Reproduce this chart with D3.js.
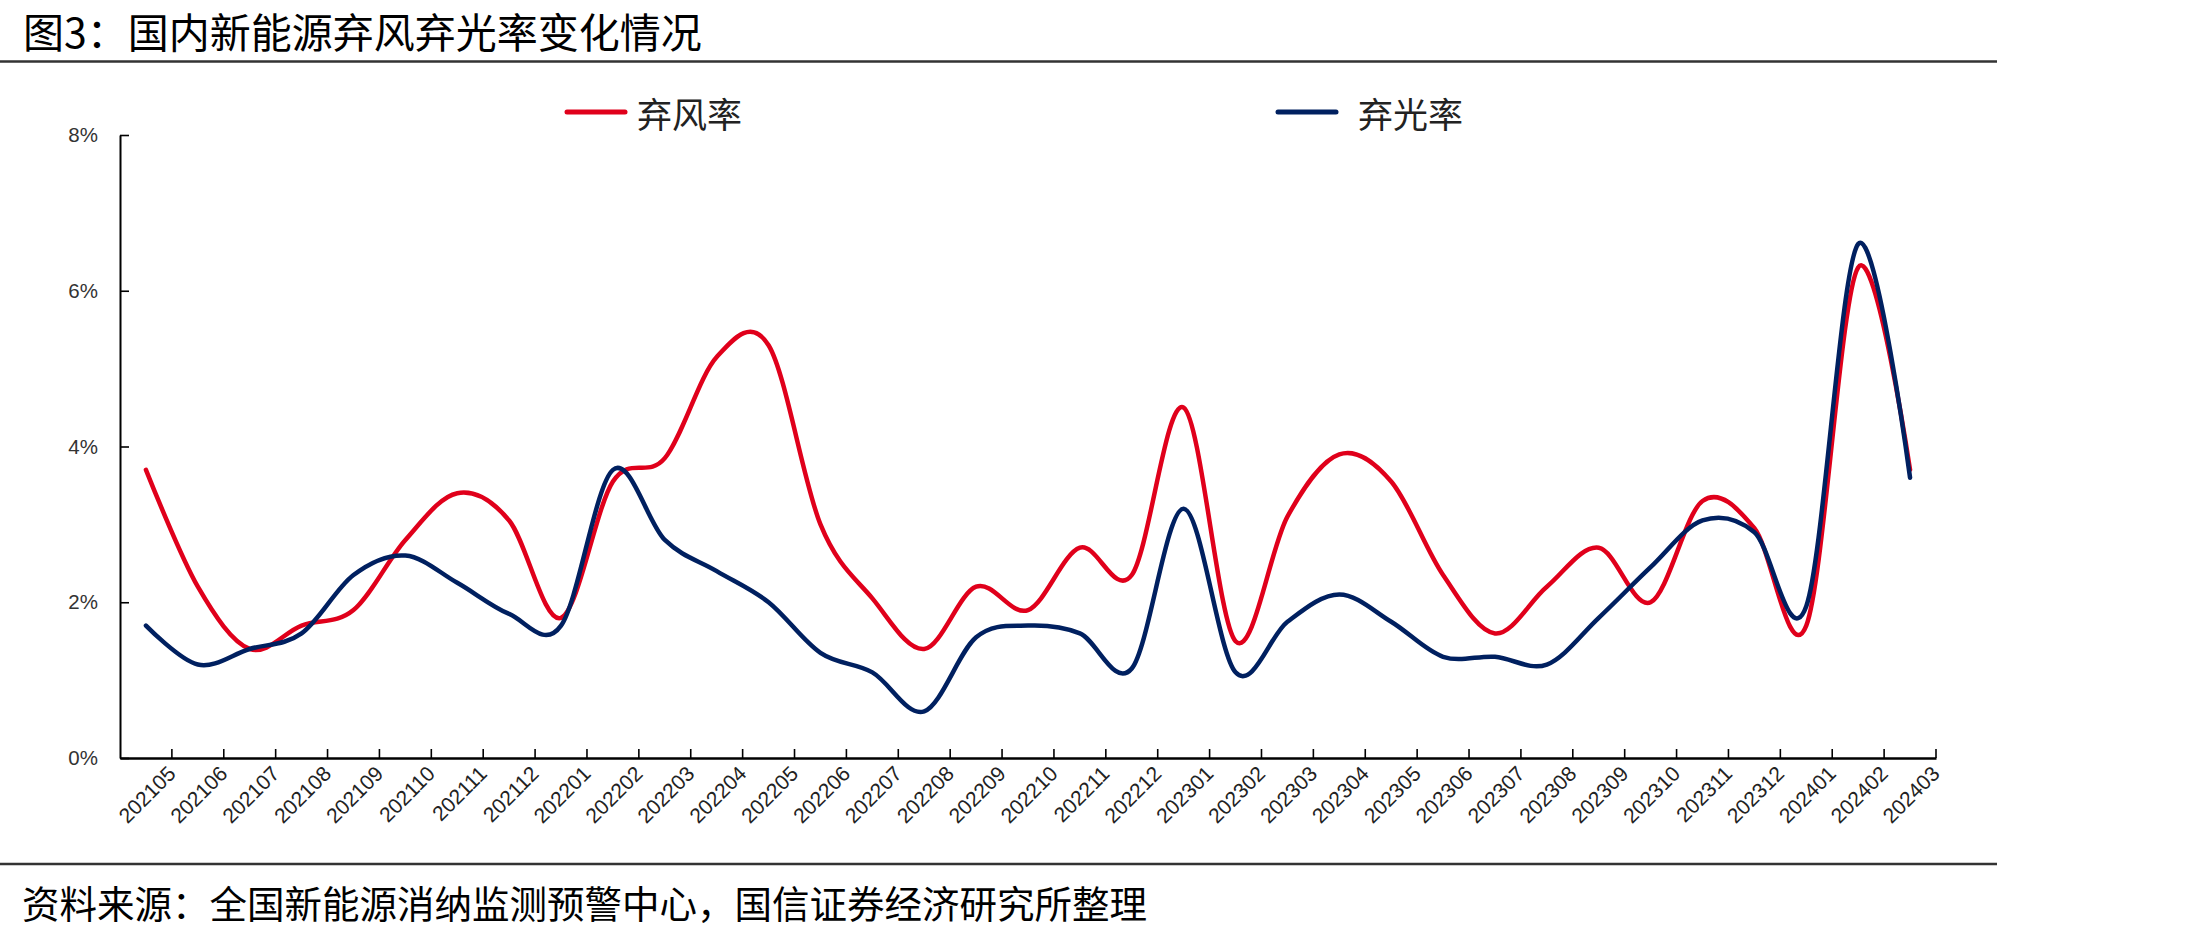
<!DOCTYPE html>
<html>
<head>
<meta charset="utf-8">
<script src="https://cdn.jsdelivr.net/npm/d3@7/dist/d3.min.js"></script>
<style>
  html, body { margin: 0; padding: 0; background: #fff; }
  svg { display: block; }
  .cjk { font-family: "Noto Sans CJK SC", "Noto Sans", sans-serif; }
  .num { font-family: "Liberation Sans", Arial, sans-serif; }
</style>
</head>
<body>
<svg id="chart" width="2190" height="937"></svg>
<script>
// ---- data ----
const titleText = "图3：国内新能源弃风弃光率变化情况";
const sourceText = "资料来源：全国新能源消纳监测预警中心，国信证券经济研究所整理";
const categories = ["202105","202106","202107","202108","202109","202110","202111","202112",
  "202201","202202","202203","202204","202205","202206","202207","202208","202209","202210","202211","202212",
  "202301","202302","202303","202304","202305","202306","202307","202308","202309","202310","202311","202312",
  "202401","202402","202403"];
const windCurtail = [3.7,2.2,1.4,1.7,1.9,2.8,3.4,3.05,1.8,3.55,3.85,5.15,5.3,3.0,2.05,1.4,2.2,1.9,2.7,2.35,
  4.5,1.5,3.1,3.9,3.55,2.35,1.6,2.2,2.7,2.0,3.3,2.95,1.7,6.3,3.7];
const solarCurtail = [1.7,1.2,1.4,1.6,2.35,2.6,2.25,1.85,1.7,3.7,2.8,2.4,2.0,1.35,1.1,0.6,1.55,1.7,1.6,1.15,
  3.2,1.1,1.75,2.1,1.75,1.3,1.3,1.2,1.8,2.45,3.05,2.9,1.95,6.6,3.6];
const yTicks = [0, 2, 4, 6, 8];
const seriesNames = ["弃风率", "弃光率"];
const seriesColors = ["#E0001B", "#002060"];

// ---- layout ----
const svg = d3.select("#chart");
const plot = { left: 120, right: 1936, top: 135, bottom: 758 };

const x = d3.scaleBand().domain(categories).range([plot.left, plot.right]).padding(0);
const y = d3.scaleLinear().domain([0, 8]).range([plot.bottom, plot.top]);

// title
svg.append("text").attr("class", "cjk")
  .attr("x", 23).attr("y", 48)
  .attr("font-size", 41).attr("fill", "#000")
  .text(titleText);

// top and bottom rules
svg.append("line").attr("x1", 0).attr("x2", 1997).attr("y1", 61.5).attr("y2", 61.5)
  .attr("stroke", "#333").attr("stroke-width", 2.5);
svg.append("line").attr("x1", 0).attr("x2", 1997).attr("y1", 864).attr("y2", 864)
  .attr("stroke", "#333").attr("stroke-width", 2.5);

// source
svg.append("text").attr("class", "cjk")
  .attr("x", 22).attr("y", 918)
  .attr("font-size", 37.5).attr("fill", "#000")
  .text(sourceText);

// y axis
const yAxis = d3.axisLeft(y).tickValues(yTicks).tickSizeInner(-9).tickSizeOuter(0)
  .tickPadding(22).tickFormat(d => d + "%");
const gy = svg.append("g").attr("transform", `translate(${plot.left},0)`).call(yAxis);
gy.select(".domain").attr("stroke", "#000").attr("stroke-width", 2);
gy.selectAll(".tick line").attr("stroke", "#000").attr("stroke-width", 1.6);
gy.selectAll(".tick text").attr("class", "num").attr("font-size", 20.5).attr("fill", "#333");

// x axis
const xAxis = d3.axisBottom(x).tickSize(0).tickSizeOuter(0);
const gx = svg.append("g").attr("transform", `translate(0,${plot.bottom})`).call(xAxis);
gx.select(".domain").attr("stroke", "#000").attr("stroke-width", 2.5);
gx.selectAll(".tick text")
  .attr("class", "num")
  .attr("font-size", 21).attr("fill", "#222")
  .attr("x", 0).attr("y", 0).attr("dy", null)
  .attr("text-anchor", "end")
  .attr("transform", "translate(31,17) rotate(-45)");

// x tick marks at band boundaries
const boundaries = categories.slice(1).map(c => x(c)).concat([x.range()[1]]);
gx.selectAll(".bound").data(boundaries).enter().append("line")
  .attr("class", "bound")
  .attr("x1", d => d).attr("x2", d => d)
  .attr("y1", 0).attr("y2", -9)
  .attr("stroke", "#000").attr("stroke-width", 1.6);

// lines
const line = d3.line()
  .x((d, i) => x(categories[i]) + x.bandwidth() / 2)
  .y(d => y(d))
  .curve(d3.curveCardinal.tension(0));

[windCurtail, solarCurtail].forEach((series, k) => {
  svg.append("path").datum(series)
    .attr("d", line)
    .attr("fill", "none")
    .attr("stroke", seriesColors[k])
    .attr("stroke-width", 4.5)
    .attr("stroke-linecap", "round")
    .attr("stroke-linejoin", "round");
});

// legend
const legendX = [567, 1278];
const legendTextGap = [70, 80];
seriesNames.forEach((name, k) => {
  const g = svg.append("g").attr("transform", `translate(${legendX[k]},112)`);
  g.append("line").attr("x1", 0).attr("x2", 58).attr("y1", 0).attr("y2", 0)
    .attr("stroke", seriesColors[k]).attr("stroke-width", 5).attr("stroke-linecap", "round");
  g.append("text").attr("class", "cjk").attr("x", legendTextGap[k]).attr("y", 0)
    .attr("dominant-baseline", "central")
    .attr("font-size", 35).attr("fill", "#222")
    .text(name);
});
</script>
</body>
</html>
